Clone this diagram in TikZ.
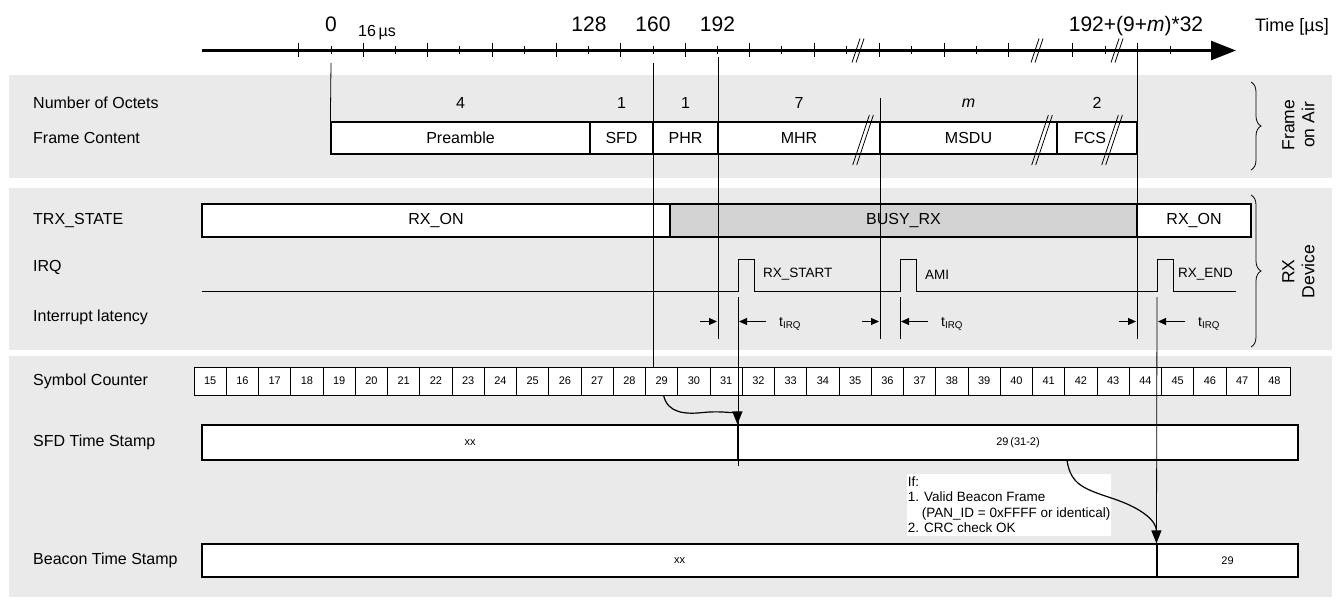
\documentclass[tikz,border=0pt]{standalone}
\usepackage{fontspec}
\setmainfont{Liberation Sans}
\usetikzlibrary{arrows.meta, positioning, decorations.pathreplacing, calc}
\definecolor{cPanel}{HTML}{EAEAEA}
\definecolor{cBusy}{HTML}{D2D2D2}
\newcommand{\lblfont}{\fontsize{16}{19}\selectfont}
\newcommand{\numfont}{\fontsize{21}{24}\selectfont}
\newcommand{\irqfont}{\fontsize{13.5}{15.5}\selectfont}
\newcommand{\cellfont}{\fontsize{11}{13}\selectfont}
\newcommand{\tirq}{t\textsubscript{IRQ}}
\tikzset{
  panel/.style={fill=cPanel, draw=none},
  rowlabel/.style={anchor=west, inner sep=0pt, font=\lblfont},
  field/.style={draw, line width=1.2pt, fill=white, minimum height=32pt,
    inner sep=0pt, font=\lblfont},
  state/.style={field, minimum height=33pt},
  stamp/.style={field, minimum height=35pt, font=\cellfont},
  cell/.style={draw, line width=0.9pt, fill=white, minimum width=32.25pt,
    minimum height=28pt, inner sep=0pt, font=\cellfont},
  octets/.style={font=\lblfont, inner sep=0pt},
  ticknum/.style={font=\numfont, anchor=base, inner sep=0pt},
  marker/.style={line width=0.8pt},
  signal/.style={line width=1pt},
  lat/.style={-{Triangle[length=8pt,width=7pt]}, line width=0.9pt},
  tsarrow/.style={-{Triangle[length=13pt,width=10pt]}, line width=1.2pt},
  irqlabel/.style={anchor=west, inner sep=0pt, font=\irqfont},
  side/.style={rotate=90, align=center, inner sep=0pt,
    font=\fontsize{17.5}{20}\selectfont},
  sidebrace/.style={decorate, decoration={brace, amplitude=10pt}, line width=0.8pt},
  pics/cut/.style={code={
    \draw[line width=0.8pt] ({-#1/3-2},#1) -- ({#1/3-2},-#1)
                            ({-#1/3+2},#1) -- ({#1/3+2},-#1);}},
}

\begin{document}
\begin{tikzpicture}[x=1pt, y=-1pt]
  \useasboundingbox (0,0) rectangle (1343,602);

  % Background panels
  \fill[panel] (9,75)  rectangle (1332,178);
  \fill[panel] (9,188) rectangle (1332,350);
  \fill[panel] (9,356) rectangle (1332,597);

  % Time axis
  \coordinate (axL) at (202,50.5);
  \coordinate (axR) at (1236,50.5);
  \draw[line width=2.6pt, -{Triangle[length=25pt,width=19pt]}] (axL) -- (axR);
  \foreach \k in {-1,...,16}{
    \pgfmathsetmacro{\h}{mod(\k+2,2)==1 ? 7 : 4}
    \draw[line width=1pt] ({331+32.2*\k},{50.5-\h}) -- ({331+32.2*\k},{50.5+\h});
  }
  \foreach \x/\h in {879/7, 911.5/4, 944/7, 976.5/4, 1008/7, 1072/7, 1105/4, 1137/7, 1170/4}
    \draw[line width=1pt] (\x,{50.5-\h}) -- (\x,{50.5+\h});
  \pic at (858,50.5)  {cut=12};
  \pic at (1037,50.5) {cut=12};
  \pic at (1117,50.5) {cut=12};

  \node[ticknum] (n0)   at (331,32)   {0};
  \node[ticknum, font=\fontsize{16}{18}\selectfont] (n16) at (377,37) {16\,µs};
  \node[ticknum] (n128) at (589,32)   {128};
  \node[ticknum] (n160) at (653,32)   {160};
  \node[ticknum] (n192) at (717.5,32) {192};
  \node[ticknum] (nend) at (1136,32)  {192+(9+\textit{m})*32};
  \node[ticknum, font=\fontsize{18}{20}\selectfont] (tlabel) at (1292,32) {Time [µs]};

  % Frame on air
  \node[rowlabel] (octlbl) at (33,103) {Number of Octets};
  \node[rowlabel] (frmlbl) at (33,138) {Frame Content};
  \node[field, minimum width=259pt] (pre)  at (460.5,138) {Preamble};
  \node[field, minimum width=63pt]  (sfd)  at (621.5,138) {SFD};
  \node[field, minimum width=65pt]  (phr)  at (685.5,138) {PHR};
  \node[field, minimum width=162pt] (mhr)  at (799,138)   {MHR};
  \node[field, minimum width=177pt] (msdu) at (968.5,138) {MSDU};
  \node[field, minimum width=80pt]  (fcs)  at (1097,138)  {\hspace*{-14pt}FCS};
  \node[octets] (o4)  at (pre |- octlbl)  {4};
  \node[octets] (o1a) at (sfd |- octlbl)  {1};
  \node[octets] (o1b) at (phr |- octlbl)  {1};
  \node[octets] (o7)  at (mhr |- octlbl)  {7};
  \node[octets] (om)  at (msdu |- octlbl) {\textit{m}};
  \node[octets] (o2)  at (fcs |- octlbl)  {2};
  \pic at (863,140)  {cut=25};
  \pic at (1042,140) {cut=25};
  \pic at (1112,140) {cut=25};

  % RX device
  \node[rowlabel] (trxlbl) at (33,220.5) {TRX\_STATE};
  \node[rowlabel] (irqlbl) at (33,267)   {IRQ};
  \node[rowlabel] (latlbl) at (33,317)   {Interrupt latency};
  \node[state, minimum width=468pt] (rxon1) at (436,220.5) {RX\_ON};
  \node[state, minimum width=467pt, fill=cBusy] (busy) at (903.5,220.5) {BUSY\_RX};
  \node[state, minimum width=114pt] (rxon2) at (1194,220.5) {RX\_ON};

  \coordinate (irqL) at (202,291.5);
  \coordinate (irqR) at (1236,291.5);
  \coordinate (pS) at (738,291.5);
  \coordinate (pA) at (900,291.5);
  \coordinate (pE) at (1157,291.5);
  \draw[signal] (irqL) -- (pS) -- ++(0,-32.5) -- ++(16,0) -- ++(0,32.5)
    -- (pA) -- ++(0,-32.5) -- ++(16,0) -- ++(0,32.5)
    -- (pE) -- ++(0,-32.5) -- ++(16,0) -- ++(0,32.5) -- (irqR);
  \node[irqlabel] (lstart) at (763,274.5)  {RX\_START};
  \node[irqlabel] (lami)   at (925,274.5)  {AMI};
  \node[irqlabel] (lend)   at (1178,274.5) {RX\_END};

  \foreach \a/\b/\n in {718/738/1, 880/900/2, 1137/1157/3}{
    \coordinate (la\n) at (\a,321.5);
    \coordinate (lb\n) at (\b,321.5);
    \draw[lat] ([xshift=-18pt]la\n) -- ([xshift=-1pt]la\n);
    \draw[lat] ([xshift=28pt]lb\n) -- ([xshift=1pt]lb\n);
    \node[irqlabel, font=\fontsize{14}{16}\selectfont] (tirq\n) at ([xshift=41pt, yshift=-2pt]lb\n) {\tirq};
  }

  \node[side] (fairlbl) at (1298.5,125)   {Frame\\on Air};
  \node[side] (rxdlbl)  at (1298.5,271.5) {RX\\Device};
  \coordinate (fbT) at (1251,82);
  \coordinate (fbB) at (1251,170);
  \coordinate (rbT) at (1251,195);
  \coordinate (rbB) at (1251,347);
  \draw[sidebrace] (fbT) -- (fbB);
  \draw[sidebrace] (rbT) -- (rbB);

  % Counter and time stamps
  \node[rowlabel] (symlbl) at (33,381)   {Symbol Counter};
  \node[rowlabel] (sfdlbl) at (33,442.5) {SFD Time Stamp};
  \node[rowlabel] (bcnlbl) at (33,560.5) {Beacon Time Stamp};
  \foreach \n [count=\i from 0] in {15,...,48}
    \node[cell] (c\n) at ({210.125+32.25*\i},381) {\n};
  \node[stamp, minimum width=536pt] (sfdA) at (470,442.5)  {xx};
  \node[stamp, minimum width=560pt] (sfdB) at (1018,442.5) {29\,(31-2)};
  \node[stamp, minimum width=955pt, minimum height=33pt] (bcnA) at (679.5,560.5)  {xx};
  \node[stamp, minimum width=141pt, minimum height=33pt] (bcnB) at (1227.5,560.5) {29};

  % Time markers
  \coordinate (m0a)   at (331,63);
  \coordinate (m160a) at (653,63);
  \coordinate (m160b) at (653,367);
  \coordinate (m192a) at (718,57);
  \coordinate (m192b) at (718,339);
  \coordinate (mamia) at (880,98);
  \coordinate (mamib) at (880,339);
  \coordinate (menda) at (1137,57);
  \coordinate (mendb) at (1137,339);
  \coordinate (msa)   at (738,297);
  \coordinate (msb)   at (738,466);
  \coordinate (maa)   at (900,297);
  \coordinate (mab)   at (900,339);
  \coordinate (mea)   at (1157,297);
  \draw[marker] (m0a) -- (pre.north west);
  \draw[marker] (m160a) -- (m160b);
  \draw[marker] (m192a) -- (m192b);
  \draw[marker] (mamia) -- (mamib);
  \draw[marker] (menda) -- (mendb);
  \draw[marker] (msa) -- (msb);
  \draw[marker] (maa) -- (mab);
  \draw[marker] (mea) -- (bcnB.south west);

  % Time stamp capture
  \draw[tsarrow] ([xshift=2pt]c29.south) .. controls +(4,18) and +(-18,2) .. ++(40,17)
    .. controls +(20,-2) and +(0,-10) .. (sfdB.north west);
  \node[fill=white, anchor=north west, inner xsep=1pt, inner ysep=2.5pt, align=left,
    font=\fontsize{13.5}{15.5}\selectfont] (cond) at (906.7,474)
    {If:\\1. Valid Beacon Frame\\\hspace*{14pt}(PAN\_ID = 0xFFFF or identical)\\2. CRC check OK};
  \draw[tsarrow] ([xshift=49pt]sfdB.south) .. controls +(4,24) and +(-30,-10) .. ++(46,38)
    .. controls +(30,10) and +(0,-22) .. (bcnB.north west);
\end{tikzpicture}
\end{document}
